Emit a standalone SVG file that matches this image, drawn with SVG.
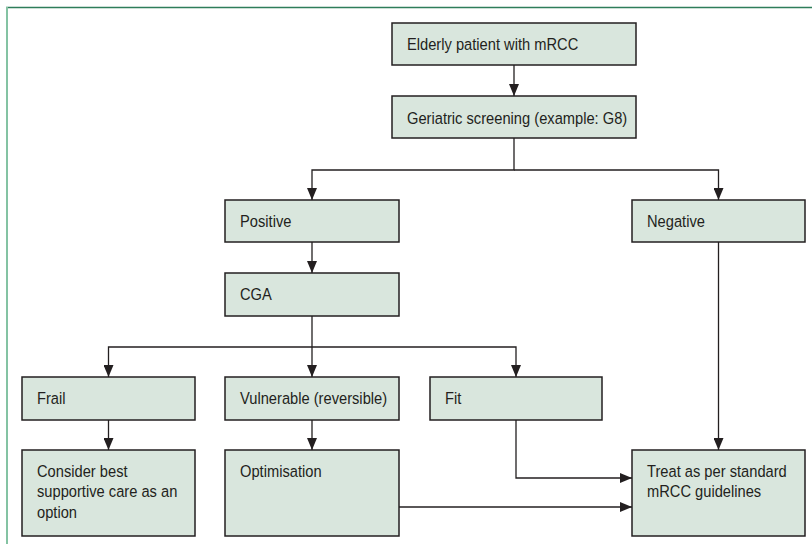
<svg xmlns="http://www.w3.org/2000/svg" width="812" height="544" viewBox="0 0 812 544">
<style>
.box{fill:#d9e6dd;stroke:#231f20;stroke-width:1.5}
.t{font-family:"Liberation Sans",Arial,sans-serif;font-size:16.5px;fill:#231f20}
.c{fill:none;stroke:#231f20;stroke-width:1.3}
</style>
<defs>
<marker id="ah" viewBox="0 0 12 10" refX="12" refY="5" markerWidth="12" markerHeight="10" markerUnits="userSpaceOnUse" orient="auto">
<path d="M0,0 L12,5 L0,10 z" fill="#231f20"/>
</marker>
</defs>
<rect x="0" y="0" width="812" height="544" fill="#ffffff"/>
<line x1="6" y1="7.5" x2="812" y2="7.5" stroke="#2e7d5a" stroke-width="1.5"/>
<line x1="7" y1="7" x2="7" y2="544" stroke="#84c3a3" stroke-width="2"/>
<g id="connectors">
<path class="c" d="M514,65 V96" marker-end="url(#ah)"/>
<path class="c" d="M514,138 V170 H312 V200" marker-end="url(#ah)"/>
<path class="c" d="M514,170 H718.5 V200" marker-end="url(#ah)"/>
<path class="c" d="M312,242 V273" marker-end="url(#ah)"/>
<path class="c" d="M312,316 V377" marker-end="url(#ah)"/>
<path class="c" d="M312,347 H108.5 V377" marker-end="url(#ah)"/>
<path class="c" d="M312,347 H516 V377" marker-end="url(#ah)"/>
<path class="c" d="M108.5,420 V450" marker-end="url(#ah)"/>
<path class="c" d="M312,420 V450" marker-end="url(#ah)"/>
<path class="c" d="M516,420 V478 H632" marker-end="url(#ah)"/>
<path class="c" d="M399,507 H632" marker-end="url(#ah)"/>
<path class="c" d="M718.5,242 V450" marker-end="url(#ah)"/>
</g>
<g id="elderly"><rect class="box" x="392" y="23" width="244" height="42"/><text class="t" transform="translate(407,50) scale(0.89,1)">Elderly patient with mRCC</text></g>
<g id="screening"><rect class="box" x="392" y="96" width="244" height="42"/><text class="t" transform="translate(407,124) scale(0.89,1)">Geriatric screening (example: G8)</text></g>
<g id="positive"><rect class="box" x="225" y="200" width="174" height="42"/><text class="t" transform="translate(240,227) scale(0.89,1)">Positive</text></g>
<g id="negative"><rect class="box" x="632" y="200" width="173" height="42"/><text class="t" transform="translate(647,227) scale(0.89,1)">Negative</text></g>
<g id="cga"><rect class="box" x="225" y="273" width="174" height="43"/><text class="t" transform="translate(240,300) scale(0.89,1)">CGA</text></g>
<g id="frail"><rect class="box" x="22" y="377" width="173" height="43"/><text class="t" transform="translate(37,404) scale(0.89,1)">Frail</text></g>
<g id="vulnerable"><rect class="box" x="225" y="377" width="174" height="43"/><text class="t" transform="translate(240,404) scale(0.89,1)">Vulnerable (reversible)</text></g>
<g id="fit"><rect class="box" x="430" y="377" width="172" height="43"/><text class="t" transform="translate(445,404) scale(0.89,1)">Fit</text></g>
<g id="bsc"><rect class="box" x="22" y="450" width="173" height="86"/><text class="t" transform="translate(37,477) scale(0.89,1)">Consider best</text><text class="t" transform="translate(37,497) scale(0.89,1)">supportive care as an</text><text class="t" transform="translate(37,518) scale(0.89,1)">option</text></g>
<g id="optimisation"><rect class="box" x="225" y="450" width="174" height="86"/><text class="t" transform="translate(240,477) scale(0.89,1)">Optimisation</text></g>
<g id="treat"><rect class="box" x="632" y="450" width="173" height="86"/><text class="t" transform="translate(647,477) scale(0.89,1)">Treat as per standard</text><text class="t" transform="translate(647,497) scale(0.89,1)">mRCC guidelines</text></g>
</svg>
